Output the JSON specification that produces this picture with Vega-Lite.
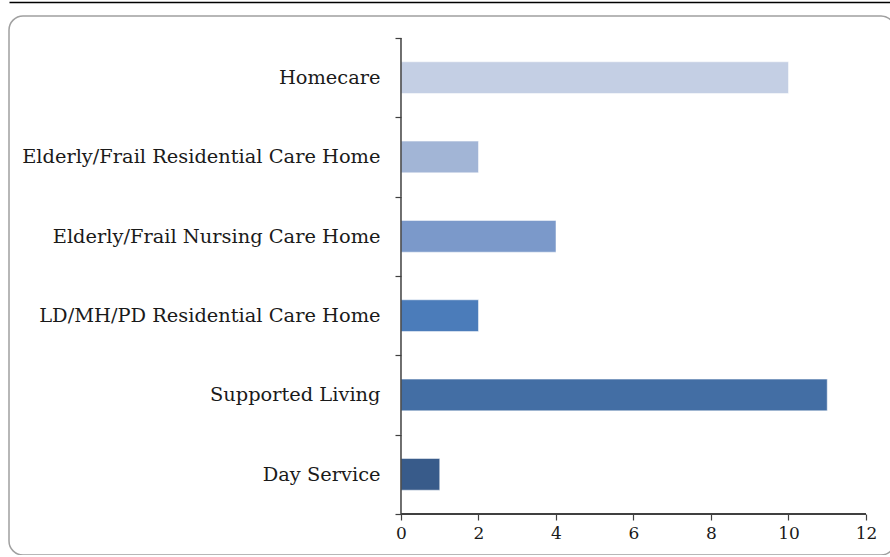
{
  "$schema": "https://vega.github.io/schema/vega-lite/v6.json",
  "width": 886,
  "height": 539,
  "autosize": {"type": "none"},
  "padding": {"left": 9, "top": 16, "right": 0, "bottom": 0},
  "background": "white",
  "config": {
    "view": {"stroke": "#a0a0a0", "strokeWidth": 1.5, "cornerRadius": 14},
    "font": "DejaVu Serif",
    "axis": {"labelFont": "DejaVu Serif", "labelColor": "#1a1a1a", "tickColor": "#404040", "domainColor": "#404040", "grid": false, "title": null}
  },
  "data": {
    "values": [
      {"category": "Homecare", "count": 10},
      {"category": "Elderly/Frail Residential Care Home", "count": 2},
      {"category": "Elderly/Frail Nursing Care Home", "count": 4},
      {"category": "LD/MH/PD Residential Care Home", "count": 2},
      {"category": "Supported Living", "count": 11},
      {"category": "Day Service", "count": 1}
    ]
  },
  "resolve": {"axis": {"x": "independent"}},
  "layer": [
    {
      "mark": {"type": "bar", "height": {"band": 0.4}, "stroke": "white", "strokeOpacity": 0.5, "strokeWidth": 1},
      "encoding": {
        "y": {
          "field": "category", "type": "nominal", "sort": null,
          "scale": {"paddingInner": 0, "paddingOuter": 0.397, "align": 0.349},
          "axis": {"orient": "left", "offset": -392, "domain": false, "tickBand": "extent", "tickSize": 6, "tickWidth": 1.2, "labelPadding": 15, "labelFontSize": 19.4, "labelLimit": 500}
        },
        "x": {
          "field": "count", "type": "quantitative",
          "scale": {"domain": [-10.1161, 12.7484], "nice": false, "zero": false},
          "axis": {"orient": "bottom", "offset": -41, "values": [0, 2, 4, 6, 8, 10, 12], "domain": false, "tickSize": 6, "tickWidth": 1.2, "labelFontSize": 17, "labelPadding": 5, "labelFlush": false}
        },
        "color": {
          "field": "category", "type": "nominal", "sort": null, "legend": null,
          "scale": {"domain": ["Homecare", "Elderly/Frail Residential Care Home", "Elderly/Frail Nursing Care Home", "LD/MH/PD Residential Care Home", "Supported Living", "Day Service"],
                    "range": ["#c4cfe4", "#a2b5d6", "#7b99ca", "#4b7cba", "#436ea4", "#385b8a"]}
        }
      }
    },
    {
      "mark": {"type": "rect", "stroke": "#404040", "strokeWidth": 1, "fill": "#404040"},
      "encoding": {
        "y": {"field": "category", "type": "nominal", "sort": null},
        "x": {"datum": 0, "type": "quantitative", "scale": {"domain": [-10.1161, 12.7484], "nice": false, "zero": false}, "axis": null},
        "x2": {"datum": 0}
      }
    },
    {
      "mark": {"type": "rule", "stroke": "#404040", "strokeWidth": 1.5},
      "encoding": {
        "y": {"datum": "Day Service", "type": "nominal", "bandPosition": 1},
        "x": {"datum": 0, "type": "quantitative", "scale": {"domain": [-10.1161, 12.7484], "nice": false, "zero": false},
              "axis": {"orient": "top", "offset": 14, "domain": true, "domainColor": "#000000", "domainWidth": 1.5, "ticks": false, "labels": false}},
        "x2": {"datum": 12}
      }
    }
  ]
}
